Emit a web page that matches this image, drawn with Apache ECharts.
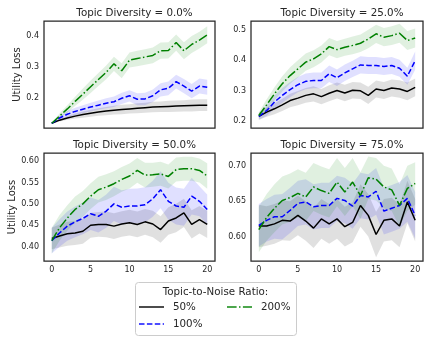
<!DOCTYPE html>
<html>
<head>
<meta charset="utf-8">
<script src="https://cdn.jsdelivr.net/npm/echarts@6/dist/echarts.min.js"></script>
<style>
    html, body { margin: 0; padding: 0; background: #fff; }
    #chart { width: 430px; height: 342px; }
</style>
</head>
<body>
<div id="chart"></div>
<script>
    // x values (iteration)
    var xs = [0, 1, 2, 3, 4, 5, 6, 7, 8, 9, 10, 11, 12, 13, 14, 15, 16, 17, 18, 19, 20];
    var xTicks = [0, 5, 10, 15, 20];

    var titles = ['Topic Diversity = 0.0%', 'Topic Diversity = 25.0%', 'Topic Diversity = 50.0%', 'Topic Diversity = 75.0%'];
    var ratioNames = ['50%', '100%', '200%'];

    // y tick labels per panel
    var yTicks0 = [0.2, 0.3, 0.4];
    var yTicks1 = [0.2, 0.3, 0.4, 0.5];
    var yTicks2 = [0.40, 0.45, 0.50, 0.55, 0.60];
    var yTicks3 = [0.60, 0.65, 0.70];

    // topic diversity 0.0%
    var td0_r50 = [0.12, 0.13, 0.137, 0.143, 0.148, 0.152, 0.156, 0.159, 0.162, 0.164, 0.166, 0.168, 0.17, 0.172, 0.173, 0.174, 0.175, 0.176, 0.177, 0.178, 0.178];
    var td0_r50_err = [0.001, 0.004, 0.006, 0.008, 0.01, 0.011, 0.012, 0.013, 0.014, 0.015, 0.015, 0.016, 0.016, 0.017, 0.017, 0.018, 0.018, 0.018, 0.019, 0.019, 0.019];
    var td0_r100 = [0.12, 0.137, 0.149, 0.158, 0.165, 0.172, 0.178, 0.184, 0.189, 0.2, 0.208, 0.197, 0.198, 0.208, 0.227, 0.232, 0.253, 0.239, 0.223, 0.239, 0.235];
    var td0_r100_err = [0.002, 0.007, 0.01, 0.012, 0.013, 0.014, 0.015, 0.016, 0.017, 0.018, 0.018, 0.019, 0.02, 0.02, 0.021, 0.022, 0.022, 0.023, 0.023, 0.024, 0.024];
    var td0_r200 = [0.12, 0.143, 0.166, 0.19, 0.213, 0.237, 0.26, 0.283, 0.31, 0.288, 0.322, 0.327, 0.332, 0.337, 0.352, 0.353, 0.378, 0.352, 0.372, 0.386, 0.403];
    var td0_r200_err = [0.002, 0.008, 0.012, 0.015, 0.018, 0.02, 0.021, 0.022, 0.023, 0.024, 0.024, 0.025, 0.025, 0.025, 0.026, 0.026, 0.026, 0.027, 0.027, 0.027, 0.027];

    // topic diversity 25.0%
    var td25_r50 = [0.215, 0.229, 0.24, 0.253, 0.267, 0.275, 0.284, 0.289, 0.28, 0.291, 0.3, 0.292, 0.301, 0.299, 0.284, 0.305, 0.3, 0.308, 0.305, 0.297, 0.31];
    var td25_r50_err = [0.012, 0.015, 0.018, 0.02, 0.022, 0.023, 0.024, 0.025, 0.025, 0.026, 0.026, 0.027, 0.027, 0.027, 0.028, 0.028, 0.028, 0.028, 0.029, 0.029, 0.029];
    var td25_r100 = [0.215, 0.234, 0.262, 0.284, 0.303, 0.319, 0.33, 0.333, 0.333, 0.355, 0.342, 0.358, 0.371, 0.384, 0.382, 0.382, 0.379, 0.382, 0.373, 0.347, 0.398];
    var td25_r100_err = [0.01, 0.018, 0.022, 0.024, 0.025, 0.025, 0.026, 0.026, 0.026, 0.027, 0.027, 0.027, 0.027, 0.028, 0.028, 0.028, 0.028, 0.028, 0.028, 0.028, 0.03];
    var td25_r200 = [0.218, 0.253, 0.289, 0.322, 0.349, 0.371, 0.393, 0.404, 0.42, 0.444, 0.434, 0.442, 0.448, 0.455, 0.469, 0.486, 0.475, 0.48, 0.488, 0.464, 0.472];
    var td25_r200_err = [0.01, 0.018, 0.022, 0.025, 0.027, 0.028, 0.028, 0.028, 0.028, 0.028, 0.028, 0.028, 0.029, 0.029, 0.03, 0.03, 0.03, 0.031, 0.031, 0.031, 0.031];

    // topic diversity 50.0%
    var td50_r50 = [0.419, 0.425, 0.43, 0.432, 0.436, 0.45, 0.452, 0.452, 0.448, 0.453, 0.456, 0.452, 0.458, 0.453, 0.44, 0.46, 0.467, 0.479, 0.452, 0.463, 0.452];
    var td50_r50_err = [0.025, 0.027, 0.028, 0.028, 0.029, 0.029, 0.029, 0.03, 0.03, 0.03, 0.03, 0.03, 0.03, 0.031, 0.031, 0.032, 0.033, 0.033, 0.033, 0.032, 0.032];
    var td50_r100 = [0.414, 0.432, 0.448, 0.458, 0.466, 0.477, 0.471, 0.483, 0.5, 0.492, 0.495, 0.495, 0.498, 0.512, 0.533, 0.506, 0.495, 0.492, 0.518, 0.506, 0.487];
    var td50_r100_err = [0.03, 0.032, 0.034, 0.036, 0.037, 0.038, 0.038, 0.039, 0.04, 0.04, 0.04, 0.041, 0.041, 0.042, 0.043, 0.043, 0.043, 0.043, 0.043, 0.035, 0.035];
    var td50_r200 = [0.414, 0.444, 0.467, 0.487, 0.5, 0.518, 0.533, 0.539, 0.547, 0.557, 0.565, 0.578, 0.567, 0.568, 0.57, 0.564, 0.58, 0.582, 0.582, 0.578, 0.565];
    var td50_r200_err = [0.03, 0.03, 0.03, 0.03, 0.03, 0.03, 0.03, 0.03, 0.029, 0.029, 0.029, 0.029, 0.029, 0.028, 0.028, 0.028, 0.028, 0.028, 0.028, 0.028, 0.03];

    // topic diversity 75.0%
    var td75_r50 = [0.615, 0.615, 0.618, 0.623, 0.622, 0.63, 0.622, 0.612, 0.625, 0.618, 0.625, 0.614, 0.62, 0.644, 0.63, 0.603, 0.623, 0.625, 0.615, 0.649, 0.623];
    var td75_r50_err = [0.03, 0.028, 0.028, 0.028, 0.028, 0.028, 0.028, 0.028, 0.028, 0.028, 0.028, 0.028, 0.028, 0.03, 0.03, 0.032, 0.03, 0.03, 0.03, 0.03, 0.03];
    var td75_r100 = [0.616, 0.623, 0.628, 0.628, 0.637, 0.647, 0.649, 0.642, 0.644, 0.644, 0.654, 0.651, 0.643, 0.658, 0.656, 0.664, 0.636, 0.64, 0.644, 0.654, 0.63];
    var td75_r100_err = [0.03, 0.03, 0.031, 0.032, 0.032, 0.032, 0.032, 0.032, 0.032, 0.032, 0.032, 0.032, 0.032, 0.032, 0.032, 0.033, 0.033, 0.033, 0.033, 0.033, 0.033];
    var td75_r200 = [0.61, 0.627, 0.64, 0.651, 0.655, 0.661, 0.656, 0.67, 0.665, 0.661, 0.677, 0.663, 0.677, 0.658, 0.683, 0.681, 0.67, 0.666, 0.644, 0.668, 0.675];
    var td75_r200_err = [0.032, 0.033, 0.034, 0.034, 0.034, 0.034, 0.034, 0.034, 0.034, 0.034, 0.034, 0.034, 0.034, 0.033, 0.03, 0.03, 0.03, 0.03, 0.03, 0.032, 0.03];

    var panels = [
        { means: [td0_r50, td0_r100, td0_r200], errs: [td0_r50_err, td0_r100_err, td0_r200_err], yMin: 0.105, yMax: 0.447, yTicks: yTicks0, digits: 1 },
        { means: [td25_r50, td25_r100, td25_r200], errs: [td25_r50_err, td25_r100_err, td25_r200_err], yMin: 0.177, yMax: 0.528, yTicks: yTicks1, digits: 1 },
        { means: [td50_r50, td50_r100, td50_r200], errs: [td50_r50_err, td50_r100_err, td50_r200_err], yMin: 0.3666, yMax: 0.6187, yTicks: yTicks2, digits: 2 },
        { means: [td75_r50, td75_r100, td75_r200], errs: [td75_r50_err, td75_r100_err, td75_r200_err], yMin: 0.5656, yMax: 0.718, yTicks: yTicks3, digits: 2 }
    ];

    var gridBoxes = [
        { left: 44, top: 21, width: 171, height: 107 },
        { left: 251, top: 21, width: 172, height: 107 },
        { left: 44, top: 153, width: 171, height: 108 },
        { left: 251, top: 153, width: 172, height: 108 }
    ];
    // y label distance from the frame (matplotlib pushes it past the tick labels)
    var nameGaps = [22, 0, 27, 0];

    var lineColors = ['#000000', '#0000ff', '#008000'];
    var bandColors = ['rgba(0,0,0,0.12)', 'rgba(0,0,255,0.12)', 'rgba(0,128,0,0.12)'];
    var dashes = ['solid', [5.5, 2.4], [9.6, 2.4, 1.5, 2.4]];
    var textColor = '#262626';
    var font = 'DejaVu Sans';

    var chart = echarts.init(document.getElementById('chart'), null, { renderer: 'canvas' });

    var grid = [], xAxis = [], yAxis = [], title = [], series = [];

    // shaded band drawn as one polygon: lower edge forward, upper edge back
    function bandRenderer(fill) {
        return function (params, api) {
            if (params.dataIndex !== 0) return;
            var lower = [], upper = [];
            var n = params.dataInsideLength;
            for (var k = 0; k < n; k++) {
                lower.push(api.coord([api.value(0, k), api.value(1, k)]));
                upper.push(api.coord([api.value(0, k), api.value(2, k)]));
            }
            return {
                type: 'polygon',
                shape: { points: lower.concat(upper.reverse()) },
                style: { fill: fill, stroke: null }
            };
        };
    }

    panels.forEach(function (p, i) {
        var g = gridBoxes[i];
        grid.push({
            left: g.left, top: g.top, width: g.width, height: g.height,
            show: true, borderColor: textColor, borderWidth: 1.25, backgroundColor: 'transparent'
        });
        title.push({
            text: titles[i],
            left: g.left + g.width / 2,
            top: g.top - 18,
            textAlign: 'center',
            textStyle: { fontFamily: font, fontSize: 10.3, fontWeight: 'normal', color: textColor }
        });
        xAxis.push({
            type: 'value', gridIndex: i, min: -1, max: 21,
            axisLine: { show: false }, axisTick: { show: false }, splitLine: { show: false },
            axisLabel: {
                show: i >= 2, customValues: xTicks, margin: 5,
                fontFamily: font, fontSize: 8, color: textColor
            }
        });
        yAxis.push({
            type: 'value', gridIndex: i, min: p.yMin, max: p.yMax,
            name: (i % 2 === 0) ? 'Utility Loss' : '',
            nameLocation: 'middle', nameGap: nameGaps[i],
            nameTextStyle: { fontFamily: font, fontSize: 10, color: textColor },
            axisLine: { show: false }, axisTick: { show: false }, splitLine: { show: false },
            axisLabel: {
                customValues: p.yTicks, margin: 5,
                fontFamily: font, fontSize: 8, color: textColor,
                formatter: function (v) { return v.toFixed(p.digits); }
            }
        });

        p.means.forEach(function (m, s) {
            var e = p.errs[s];
            series.push({
                type: 'custom', xAxisIndex: i, yAxisIndex: i,
                name: 'band' + i + s, silent: true, z: 1,
                renderItem: bandRenderer(bandColors[s]),
                encode: { x: 0, y: [1, 2] },
                data: xs.map(function (x, k) { return [x, m[k] - e[k], m[k] + e[k]]; })
            });
        });
        p.means.forEach(function (m, s) {
            series.push({
                type: 'line', xAxisIndex: i, yAxisIndex: i,
                name: ratioNames[s], symbol: 'none', z: 3,
                color: lineColors[s],
                lineStyle: { color: lineColors[s], width: 1.5, type: dashes[s] },
                data: xs.map(function (x, k) { return [x, m[k]]; })
            });
        });
    });

    var legendText = { fontFamily: font, fontSize: 10.3, color: textColor, padding: [0, 0, 0, 4] };

    chart.setOption({
        animation: false,
        backgroundColor: '#fff',
        title: title,
        grid: grid,
        xAxis: xAxis,
        yAxis: yAxis,
        legend: [
            { orient: 'vertical', left: 138, top: 302, padding: 0, itemWidth: 25, itemHeight: 10, itemGap: 7,
              data: ['50%', '100%'], textStyle: legendText, selectedMode: false,
              itemStyle: { opacity: 0 }, lineStyle: { opacity: 0.7 } },
            { orient: 'vertical', left: 226, top: 302, padding: 0, itemWidth: 25, itemHeight: 10, itemGap: 7,
              data: ['200%'], textStyle: legendText, selectedMode: false,
              itemStyle: { opacity: 0 }, lineStyle: { opacity: 0.7 } }
        ],
        graphic: [
            { type: 'rect', z: -1, shape: { x: 135.5, y: 282.5, width: 161, height: 53, r: 3 },
              style: { fill: '#fff', stroke: '#cccccc', lineWidth: 1 } },
            { type: 'text', x: 215.5, y: 292, style: { text: 'Topic-to-Noise Ratio:', fill: textColor,
              font: '10.3px "DejaVu Sans"', textAlign: 'center', textVerticalAlign: 'middle' } }
        ],
        series: series
    });
</script>
</body>
</html>
